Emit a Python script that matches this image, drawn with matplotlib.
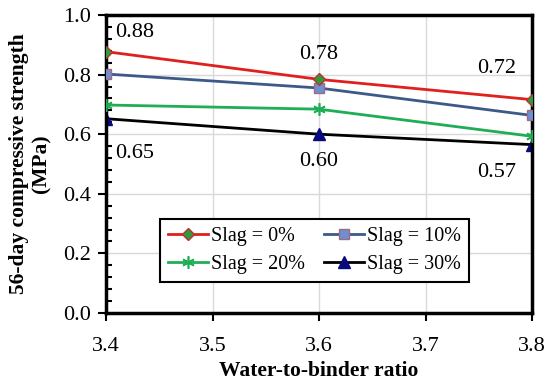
import numpy as np
import matplotlib.pyplot as plt
from matplotlib.ticker import MultipleLocator

# water-to-binder ratio and 56-day compressive strength (MPa)
wb = [3.4, 3.6, 3.8]
slag0 = [0.877, 0.784, 0.716]
slag10 = [0.802, 0.755, 0.663]
slag20 = [0.698, 0.684, 0.593]
slag30 = [0.652, 0.600, 0.565]

labels = ["Slag = 0%", "Slag = 10%", "Slag = 20%", "Slag = 30%"]
notes = ["0.88", "0.78", "0.72", "0.65", "0.60", "0.57"]
note_x = [3.409, 3.6, 3.767, 3.409, 3.6, 3.767]
note_y = [0.942, 0.866, 0.822, 0.535, 0.507, 0.470]
note_ha = ["left", "center", "center", "left", "center", "center"]

plt.rcParams['font.family'] = ['Liberation Serif', 'DejaVu Serif']

fig = plt.figure(figsize=(5.5, 3.87), dpi=100)
ax = fig.add_axes([106 / 550, 1 - 313 / 387, 426 / 550, 298 / 387])

h0, = ax.plot(wb, slag0, color='#e0201e', lw=2, marker='D', ms=6,
              mfc='#2e9a3c', mec='#c0302a', mew=1, label=labels[0], zorder=5)
h1, = ax.plot(wb, slag10, color='#3c5a88', lw=2, marker='s', ms=7,
              mfc='#6f8fd0', mec='#a06a80', mew=1, label=labels[1], zorder=4)
h2, = ax.plot(wb, slag20, color='#1fae55', lw=2, marker=(6, 2, 0), ms=9,
              mec='#1fae55', mew=1.2, label=labels[2], zorder=3)
h3, = ax.plot(wb, slag30, color='black', lw=2, marker='^', ms=8,
              mfc='#0a0a80', mec='#0a0a80', label=labels[3], zorder=2)

for t, x, y, ha in zip(notes, note_x, note_y, note_ha):
    ax.text(x, y, t, ha=ha, va='center', fontsize=16)

ax.set_xlim(3.4, 3.8)
ax.set_ylim(0, 1.0)
ax.xaxis.set_major_locator(MultipleLocator(0.1))
ax.yaxis.set_major_locator(MultipleLocator(0.2))
ax.yaxis.set_minor_locator(MultipleLocator(0.04))
ax.xaxis.set_major_formatter(plt.FormatStrFormatter('%.1f'))
ax.yaxis.set_major_formatter(plt.FormatStrFormatter('%.1f'))
ax.grid(True, which='major', color='#d9d9d9', lw=1)
ax.set_axisbelow(True)

for s in ax.spines.values():
    s.set_linewidth(2.5)
    s.set_color('black')

ax.tick_params(axis='both', which='major', direction='out', length=6, width=1.5,
               labelsize=16)
ax.tick_params(axis='x', which='major', pad=11)
ax.tick_params(axis='y', which='major', pad=5)
ax.tick_params(axis='y', which='minor', direction='in', length=4, width=1.5)

ax.set_xlabel("Water-to-binder ratio", fontsize=15.5, fontweight='bold', labelpad=4)
ax.set_ylabel("56-day compressive strength\n(MPa)", fontsize=15.5,
              fontweight='bold', labelpad=8, linespacing=1.15)

# legend filled row by row: 0%, 10% / 20%, 30%
leg = ax.legend([h0, h2, h1, h3], [labels[0], labels[2], labels[1], labels[3]],
                ncol=2, loc='lower left', bbox_to_anchor=(0.127, 0.104),
                fontsize=14.5, frameon=True, fancybox=False, edgecolor='black',
                framealpha=1, handlelength=2.0, handletextpad=0.15,
                columnspacing=0.9, borderpad=0.4, labelspacing=0.45,
                borderaxespad=0)
leg.get_frame().set_linewidth(1.5)

fig.savefig('out.png', dpi=100)
